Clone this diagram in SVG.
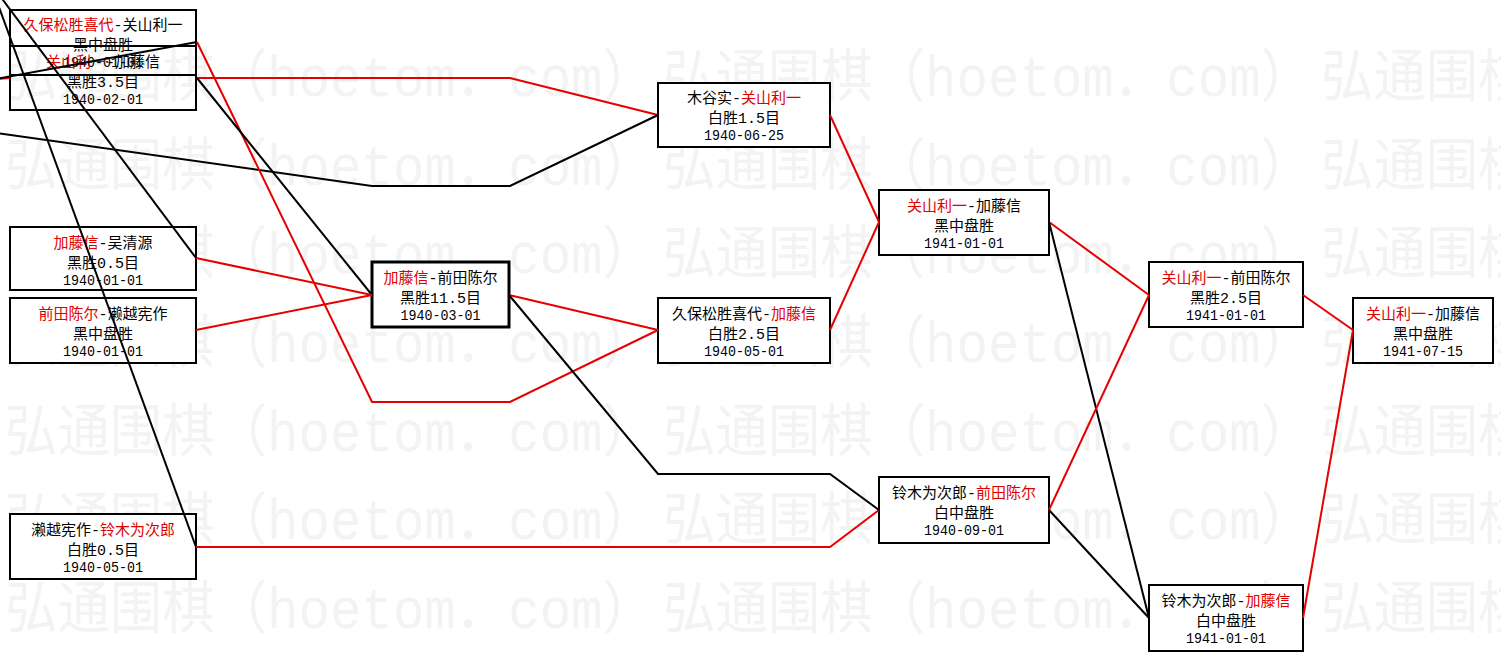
<svg xmlns="http://www.w3.org/2000/svg" width="1501" height="661" viewBox="0 0 1501 661">
<style>
.wm{font-family:"Liberation Mono","Noto Sans CJK SC",monospace;font-size:57px;fill:#f3f3f3}
.box{fill:#fff;stroke:#000;stroke-width:2}
.boxn{fill:none;stroke:#000;stroke-width:2}
.t{font-family:"Liberation Mono","Noto Sans CJK SC",monospace;font-size:15px;fill:#000;text-anchor:middle}
.d{font-family:"Liberation Mono","Noto Sans CJK SC",monospace;font-size:15px;fill:#000;text-anchor:middle}
.w{fill:#e00000}
.r{fill:none;stroke:#e60000;stroke-width:2}
.k{fill:none;stroke:#000;stroke-width:2}
</style>
<rect width="1501" height="661" fill="#fff"/>
<g id="watermark">
<text class="wm" x="5" y="96" textLength="650" lengthAdjust="spacingAndGlyphs">弘通围棋（hoetom．com）</text>
<text class="wm" x="663" y="96" textLength="650" lengthAdjust="spacingAndGlyphs">弘通围棋（hoetom．com）</text>
<text class="wm" x="1321" y="96" textLength="650" lengthAdjust="spacingAndGlyphs">弘通围棋（hoetom．com）</text>
<text class="wm" x="5" y="185" textLength="650" lengthAdjust="spacingAndGlyphs">弘通围棋（hoetom．com）</text>
<text class="wm" x="663" y="185" textLength="650" lengthAdjust="spacingAndGlyphs">弘通围棋（hoetom．com）</text>
<text class="wm" x="1321" y="185" textLength="650" lengthAdjust="spacingAndGlyphs">弘通围棋（hoetom．com）</text>
<text class="wm" x="5" y="273" textLength="650" lengthAdjust="spacingAndGlyphs">弘通围棋（hoetom．com）</text>
<text class="wm" x="663" y="273" textLength="650" lengthAdjust="spacingAndGlyphs">弘通围棋（hoetom．com）</text>
<text class="wm" x="1321" y="273" textLength="650" lengthAdjust="spacingAndGlyphs">弘通围棋（hoetom．com）</text>
<text class="wm" x="5" y="362" textLength="650" lengthAdjust="spacingAndGlyphs">弘通围棋（hoetom．com）</text>
<text class="wm" x="663" y="362" textLength="650" lengthAdjust="spacingAndGlyphs">弘通围棋（hoetom．com）</text>
<text class="wm" x="1321" y="362" textLength="650" lengthAdjust="spacingAndGlyphs">弘通围棋（hoetom．com）</text>
<text class="wm" x="5" y="451" textLength="650" lengthAdjust="spacingAndGlyphs">弘通围棋（hoetom．com）</text>
<text class="wm" x="663" y="451" textLength="650" lengthAdjust="spacingAndGlyphs">弘通围棋（hoetom．com）</text>
<text class="wm" x="1321" y="451" textLength="650" lengthAdjust="spacingAndGlyphs">弘通围棋（hoetom．com）</text>
<text class="wm" x="5" y="539" textLength="650" lengthAdjust="spacingAndGlyphs">弘通围棋（hoetom．com）</text>
<text class="wm" x="663" y="539" textLength="650" lengthAdjust="spacingAndGlyphs">弘通围棋（hoetom．com）</text>
<text class="wm" x="1321" y="539" textLength="650" lengthAdjust="spacingAndGlyphs">弘通围棋（hoetom．com）</text>
<text class="wm" x="5" y="628" textLength="650" lengthAdjust="spacingAndGlyphs">弘通围棋（hoetom．com）</text>
<text class="wm" x="663" y="628" textLength="650" lengthAdjust="spacingAndGlyphs">弘通围棋（hoetom．com）</text>
<text class="wm" x="1321" y="628" textLength="650" lengthAdjust="spacingAndGlyphs">弘通围棋（hoetom．com）</text>
</g>
<g id="node-C"><rect class="box" x="10" y="227" width="186" height="63"/>
<text class="t" x="103" y="248"><tspan class="w">加藤信</tspan>-吴清源</text>
<text class="t" x="103" y="268">黑胜0.5目</text>
<text class="d" x="103" y="285" textLength="80" lengthAdjust="spacingAndGlyphs">1940-01-01</text></g>
<g id="node-D"><rect class="box" x="10" y="298" width="186" height="65"/>
<text class="t" x="103" y="319"><tspan class="w">前田陈尔</tspan>-濑越宪作</text>
<text class="t" x="103" y="339">黑中盘胜</text>
<text class="d" x="103" y="356" textLength="80" lengthAdjust="spacingAndGlyphs">1940-01-01</text></g>
<g id="node-E"><rect class="box" x="10" y="514" width="186" height="65"/>
<text class="t" x="103" y="535">濑越宪作-<tspan class="w">铃木为次郎</tspan></text>
<text class="t" x="103" y="555">白胜0.5目</text>
<text class="d" x="103" y="572" textLength="80" lengthAdjust="spacingAndGlyphs">1940-05-01</text></g>
<g id="node-F"><rect class="box" x="372" y="262" width="137" height="65" style="stroke-width:3"/>
<text class="t" x="440.5" y="283"><tspan class="w">加藤信</tspan>-前田陈尔</text>
<text class="t" x="440.5" y="303">黑胜11.5目</text>
<text class="d" x="440.5" y="320" textLength="80" lengthAdjust="spacingAndGlyphs">1940-03-01</text></g>
<g id="node-G"><rect class="box" x="658" y="83" width="172" height="64"/>
<text class="t" x="744" y="103">木谷实-<tspan class="w">关山利一</tspan></text>
<text class="t" x="744" y="123">白胜1.5目</text>
<text class="d" x="744" y="140" textLength="80" lengthAdjust="spacingAndGlyphs">1940-06-25</text></g>
<g id="node-H"><rect class="box" x="658" y="298" width="172" height="65"/>
<text class="t" x="744" y="319">久保松胜喜代-<tspan class="w">加藤信</tspan></text>
<text class="t" x="744" y="339">白胜2.5目</text>
<text class="d" x="744" y="356" textLength="80" lengthAdjust="spacingAndGlyphs">1940-05-01</text></g>
<g id="node-I"><rect class="box" x="879" y="190" width="170" height="65"/>
<text class="t" x="964" y="211"><tspan class="w">关山利一</tspan>-加藤信</text>
<text class="t" x="964" y="231">黑中盘胜</text>
<text class="d" x="964" y="248" textLength="80" lengthAdjust="spacingAndGlyphs">1941-01-01</text></g>
<g id="node-J"><rect class="box" x="879" y="477" width="170" height="66"/>
<text class="t" x="964" y="498">铃木为次郎-<tspan class="w">前田陈尔</tspan></text>
<text class="t" x="964" y="518">白中盘胜</text>
<text class="d" x="964" y="535" textLength="80" lengthAdjust="spacingAndGlyphs">1940-09-01</text></g>
<g id="node-K"><rect class="box" x="1149" y="262" width="154" height="65"/>
<text class="t" x="1226" y="283"><tspan class="w">关山利一</tspan>-前田陈尔</text>
<text class="t" x="1226" y="303">黑胜2.5目</text>
<text class="d" x="1226" y="320" textLength="80" lengthAdjust="spacingAndGlyphs">1941-01-01</text></g>
<g id="node-L"><rect class="box" x="1353" y="298" width="140" height="65"/>
<text class="t" x="1423" y="319"><tspan class="w">关山利一</tspan>-加藤信</text>
<text class="t" x="1423" y="339">黑中盘胜</text>
<text class="d" x="1423" y="356" textLength="80" lengthAdjust="spacingAndGlyphs">1941-07-15</text></g>
<g id="node-M"><rect class="box" x="1149" y="585" width="154" height="66"/>
<text class="t" x="1226" y="606">铃木为次郎-<tspan class="w">加藤信</tspan></text>
<text class="t" x="1226" y="626">白中盘胜</text>
<text class="d" x="1226" y="643" textLength="80" lengthAdjust="spacingAndGlyphs">1941-01-01</text></g>
<g id="node-A"><rect class="boxn" x="10" y="10" width="186" height="65"/>
<text class="t" x="103" y="30"><tspan class="w">久保松胜喜代</tspan>-关山利一</text>
<text class="t" x="103" y="50">黑中盘胜</text>
<text class="d" x="103" y="67" textLength="80" lengthAdjust="spacingAndGlyphs">1940-01-01</text></g>
<g id="node-B"><rect class="boxn" x="10" y="46" width="186" height="64"/>
<text class="t" x="103" y="67"><tspan class="w">关山利一</tspan>-加藤信</text>
<text class="t" x="103" y="87">黑胜3.5目</text>
<text class="d" x="103" y="104" textLength="80" lengthAdjust="spacingAndGlyphs">1940-02-01</text></g>
<g id="connectors">
<path class="r" d="M-20,80 L10,78"/>
<path class="k" d="M197,42 L-20,82"/>
<path class="r" d="M197,78 L510,78 L658,115"/>
<path class="k" d="M-10,132 L372,186 L510,186 L658,115"/>
<path class="r" d="M197,42 L372,402 L510,402 L658,330"/>
<path class="k" d="M197,78 L372,295"/>
<path class="r" d="M196,258 L372,295"/>
<path class="r" d="M196,330 L372,295"/>
<path class="k" d="M196,258 L-6,-12"/>
<path class="k" d="M196,547 L-8,-12"/>
<path class="r" d="M196,547 L830,547 L879,510"/>
<path class="r" d="M509,295 L658,330"/>
<path class="k" d="M509,295 L658,474 L830,474 L879,510"/>
<path class="r" d="M830,115 L879,222"/>
<path class="r" d="M830,330 L879,222"/>
<path class="r" d="M1049,222 L1149,295"/>
<path class="k" d="M1049,222 L1149,618"/>
<path class="r" d="M1049,510 L1149,295"/>
<path class="k" d="M1049,510 L1149,618"/>
<path class="r" d="M1303,295 L1353,330"/>
<path class="r" d="M1303,618 L1353,330"/>
</g>
</svg>
